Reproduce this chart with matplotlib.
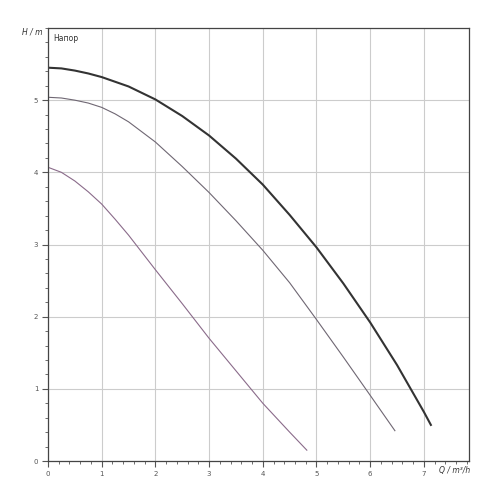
import matplotlib
matplotlib.use("Agg")
import matplotlib.pyplot as plt
from matplotlib.ticker import MultipleLocator

# pump curves (Q in m3/h, H in m)
q_max = [0, 0.25, 0.5, 0.75, 1, 1.5, 2, 2.5, 3, 3.5, 4, 4.5, 5, 5.5, 6, 6.5, 7, 7.13]
h_max = [5.45, 5.44, 5.41, 5.37, 5.32, 5.19, 5.01, 4.78, 4.51, 4.19, 3.83,
         3.41, 2.96, 2.46, 1.92, 1.33, 0.68, 0.50]

q_mid = [0, 0.25, 0.5, 0.75, 1, 1.25, 1.5, 2, 2.5, 3, 3.5, 4, 4.5, 5, 5.5, 6, 6.46]
h_mid = [5.04, 5.03, 5.00, 4.96, 4.90, 4.81, 4.70, 4.42, 4.08, 3.72, 3.33,
         2.92, 2.47, 1.96, 1.44, 0.91, 0.42]

q_min = [0, 0.25, 0.5, 0.75, 1, 1.25, 1.5, 2, 2.5, 3, 3.5, 4, 4.5, 4.82]
h_min = [4.07, 4.00, 3.88, 3.73, 3.56, 3.35, 3.13, 2.65, 2.18, 1.70, 1.25,
         0.80, 0.40, 0.15]

x_ticks = [0, 1, 2, 3, 4, 5, 6, 7]
y_ticks = [0, 1, 2, 3, 4, 5]

fig = plt.figure(figsize=(5, 5), dpi=100, facecolor="white")
ax = fig.add_axes([0.096, 0.078, 0.842, 0.866])

ax.plot(q_max, h_max, color="#333333", lw=1.5, solid_joinstyle="round")
ax.plot(q_mid, h_mid, color="#6f6773", lw=0.8, solid_joinstyle="round")
ax.plot(q_min, h_min, color="#8a6b8a", lw=0.8, solid_joinstyle="round")

ax.set_xlim(0, 7.84)
ax.set_ylim(0, 6.0)
ax.set_xticks(x_ticks)
ax.set_yticks(y_ticks)
ax.xaxis.set_minor_locator(MultipleLocator(0.2))
ax.yaxis.set_minor_locator(MultipleLocator(0.2))
ax.tick_params(which="major", length=4, width=0.8, color="#555555",
               labelsize=5, labelcolor="#555555", pad=3)
ax.tick_params(which="minor", length=2.5, width=0.6, color="#555555")
ax.grid(True, which="major", color="#cccccc", lw=0.8)
ax.set_axisbelow(True)
for s in ax.spines.values():
    s.set_color("#444444")
    s.set_linewidth(0.9)

ax.text(0.012, 0.985, "Напор", transform=ax.transAxes, fontsize=5.5,
        color="#333333", va="top", ha="left")
fig.text(0.064, 0.936, "H / m", fontsize=5.5, color="#333333",
         ha="center", va="center", style="italic")
fig.text(0.94, 0.060, "Q / m³/h", fontsize=5.5, color="#333333",
         ha="right", va="center", style="italic")

fig.savefig("out.png", dpi=100, facecolor="white")
plt.close(fig)
